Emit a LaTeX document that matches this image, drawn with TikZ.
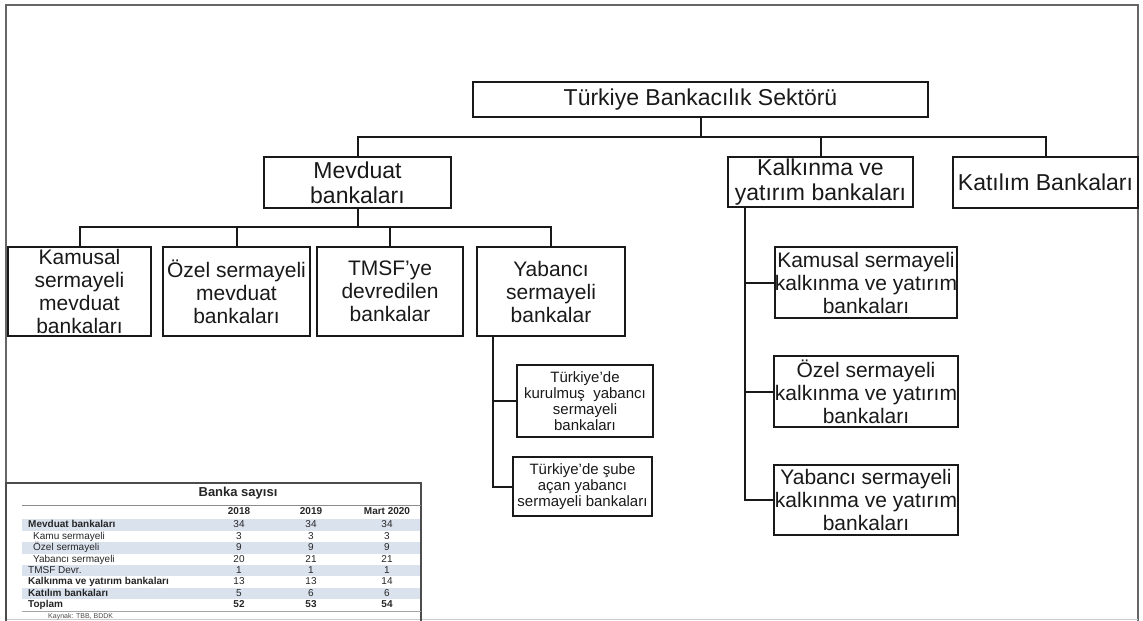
\documentclass[tikz,border=0pt]{standalone}
\usepackage{fontspec}
\setmainfont{Liberation Sans}
\definecolor{bandblue}{RGB}{218,226,238}
\begin{document}
\begin{tikzpicture}[x=1pt,y=-1pt,
  box/.style={draw=black!90, line width=2pt, inner sep=0pt, align=center, text=black!90},
  big/.style={box, font=\fontsize{23}{25}\selectfont},
  mid/.style={box, font=\fontsize{21}{23}\selectfont},
  tiny/.style={box, font=\fontsize{15}{16}\selectfont},
  link/.style={draw=black!90, line width=2pt},
  cell/.style={inner sep=0pt, text height=7.5pt, text depth=2pt, font=\fontsize{10}{12}\selectfont, text=black!85},
  band/.style={fill=bandblue},
]
\useasboundingbox (0,0) rectangle (1143,621);

% outer frame
\draw[black!60, line width=2pt] (6,621) -- (6,5) -- (1138,5) -- (1138,621);
\draw[black!20, line width=1pt] (6,619.5) -- (1138,619.5);

% bus levels
\coordinate (bus1) at (0,137);
\coordinate (bus2) at (0,227);

% level 1 and 2
\node[big, minimum width=455, minimum height=35] (top) at (700.5,99.5) {Türkiye Bankacılık Sektörü};
\node[big, minimum width=187, minimum height=51] (mev) at (357.5,182.5) {Mevduat\\bankaları};
\node[big, minimum width=185, minimum height=50] (kalk) at (820.5,182) {Kalkınma ve\\yatırım bankaları};
\node[big, minimum width=185, minimum height=51] (kat) at (1045.5,182.5) {Katılım Bankaları};

% deposit bank groups
\node[mid, minimum width=143, minimum height=89] (kam) at (79.5,291.5) {Kamusal\\sermayeli\\mevduat\\bankaları};
\node[mid, minimum width=147, minimum height=89] (oz) at (236.5,291.5) {Özel sermayeli\\mevduat\\bankaları};
\node[mid, minimum width=146, minimum height=89] (tmsf) at (390,291.5) {TMSF’ye\\devredilen\\bankalar};
\node[mid, minimum width=148, minimum height=89] (yab) at (551,291.5) {Yabancı\\sermayeli\\bankalar};

% foreign-capital subgroups
\node[tiny, minimum width=136, minimum height=72] (ykur) at (585,401) {Türkiye’de\\kurulmuş\ \ yabancı\\sermayeli\\bankaları};
\node[tiny, minimum width=139, minimum height=59] (ysube) at (582.5,486.5) {Türkiye’de şube\\açan yabancı\\sermayeli bankaları};

% development and investment bank groups
\node[mid, minimum width=182, minimum height=71] (kk) at (866,282.5) {Kamusal sermayeli\\kalkınma ve yatırım\\bankaları};
\node[mid, minimum width=184, minimum height=71] (ko) at (866,391.5) {Özel sermayeli\\kalkınma ve yatırım\\bankaları};
\node[mid, minimum width=184, minimum height=70] (ky) at (866,500) {Yabancı sermayeli\\kalkınma ve yatırım\\bankaları};

% connectors: level 1 -> 2
\draw[link] (top.south) -- (top.south |- bus1);
\draw[link] (mev.north) -- (mev.north |- bus1) -- (kat.north |- bus1) -- (kat.north);
\draw[link] (kalk.north) -- (kalk.north |- bus1);

% connectors: deposit banks
\draw[link] (mev.south) -- (mev.south |- bus2);
\draw[link] (kam.north) -- (kam.north |- bus2) -- (yab.north |- bus2) -- (yab.north);
\draw[link] (oz.north) -- (oz.north |- bus2);
\draw[link] (tmsf.north) -- (tmsf.north |- bus2);

% connectors: foreign-capital spine
\coordinate (yspine) at (493,336);
\draw[link] (yspine) |- (ysube.west);
\draw[link] (yspine |- ykur.west) -- (ykur.west);

% connectors: development and investment spine
\coordinate (kspine) at (745,207);
\draw[link] (kspine) |- (ky.west);
\draw[link] (kspine |- kk.west) -- (kk.west);
\draw[link] (kspine |- ko.west) -- (ko.west);

% ---- bank count table ----
\foreach \y in {525,547.9,570.7,593.6}
  \fill[band] (22,\y-5.7) rectangle (421,\y+5.7);
\draw[black!70, line width=2pt] (6,621) -- (6,483) -- (421,483) -- (421,621);
\draw[black!45, line width=0.8pt] (22,505) -- (421,505);
\draw[black!35, line width=0.8pt] (22,611) -- (421,611);

\node[inner sep=0pt, font=\fontsize{13}{15}\selectfont\bfseries, text=black!85] (ttl) at (238,493) {Banka sayısı};
\node[cell, font=\fontsize{10}{12}\selectfont\bfseries] (h1) at (239,512) {2018};
\node[cell, font=\fontsize{10}{12}\selectfont\bfseries] (h2) at (311,512) {2019};
\node[cell, font=\fontsize{10}{12}\selectfont\bfseries] (h3) at (387,512) {Mart 2020};

\foreach \i/\lab/\ind/\a/\b/\c in {
  0/\textbf{Mevduat bankaları}/0/34/34/34,
  1/Kamu sermayeli/5/3/3/3,
  2/Özel sermayeli/5/9/9/9,
  3/Yabancı sermayeli/5/20/21/21,
  4/TMSF Devr./0/1/1/1,
  5/\textbf{Kalkınma ve yatırım bankaları}/0/13/13/14,
  6/\textbf{Katılım bankaları}/0/5/6/6,
  7/\textbf{Toplam}/0/\textbf{52}/\textbf{53}/\textbf{54}}{
  \node[cell, anchor=west] (lab\i) at (28+\ind,525+\i*11.43) {\lab};
  \node[cell] (ca\i) at (239,525+\i*11.43) {\a};
  \node[cell] (cb\i) at (311,525+\i*11.43) {\b};
  \node[cell] (cc\i) at (387,525+\i*11.43) {\c};
}
\node[inner sep=0pt, anchor=west, font=\fontsize{7}{8}\selectfont, text=black!70] (src) at (48,617) {Kaynak: TBB, BDDK};
\end{tikzpicture}
\end{document}
